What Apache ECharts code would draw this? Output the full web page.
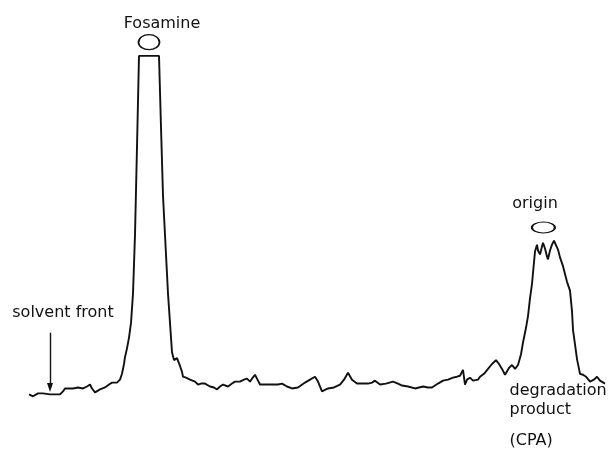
<!DOCTYPE html>
<html>
<head>
<meta charset="utf-8">
<script src="https://cdn.jsdelivr.net/npm/echarts@6/dist/echarts.min.js"></script>
<style>html,body{margin:0;padding:0;background:#fff}#c{width:608px;height:454px}</style>
</head>
<body>
<div id="c"></div>
<script>
// Migration distance (chart units) and detector response (chart units)
const distance = [0,1,2.25,3.5,5.25,6.75,7.75,8.5,9,10,11,12.25,13.5,14.5,15.25,15.75,16.5,17.75,19,20,20.75,22,22.75,23.25,23.75,24,24.5,25,25.5,26,26.5,27,27.5,32.5,33,33.5,34.25,34.75,35.25,35.75,36.25,36.5,37,37.25,37.75,38.25,38.5,39.25,40.25,41.5,42.25,43,44,45.25,46.25,47,47.75,48.5,49.75,50.75,51.5,52.75,53.75,54.5,55.25,55.75,56.5,57.25,57.75,59.25,60.75,62.25,63.25,64.5,65.75,67.25,69,70.25,71.5,72.25,73.25,74.75,76.25,77.75,78.75,79.75,80.75,82,83.25,84.75,85.75,86.5,87.75,89.25,91,92.25,93.25,94.75,96.5,98.5,99.75,100.75,102.25,103.5,104.75,106,107,107.75,108.25,108.5,109,109.5,110.25,111,111.5,112.25,112.75,113.75,114.75,115.75,116.75,117.5,118.25,119,120,120.75,121.5,122.25,123,123.5,124.25,124.75,125.25,125.75,126.25,126.5,127,127.25,127.75,128.25,128.5,129,129.5,129.75,130.25,130.75,131.25,131.75,132.25,132.75,133.5,134,134.5,135.25,135.75,136,136.5,137,137.5,137.75,138.5,139.25,140.25,141.25,142,142.75,143.25,144];
const response = [0.25,-0.25,0.5,0.5,0.25,0.25,0.25,1,1.75,1.75,1.75,2,1.75,2.25,2.75,1.75,0.75,1.5,2,2.75,3.25,3.25,4,5.5,8,9.75,12,14.75,18.5,26,41,63.5,86.75,86.75,68.5,51,36,26,18.5,11,9,8.5,9.5,9,7.5,6,4.75,4.5,4,3.5,2.75,3,3,2.25,2,1.5,2.25,2.75,2.25,3,3.5,3.5,4,4.25,3.5,4.25,5.25,3.75,2.75,2.75,2.75,2.75,3,2.25,1.75,2,3.25,4,4.75,3.5,1,1.75,2,2.75,4,5.75,4,3,3,3,3.25,3.75,2.75,3,3.5,3,2.5,2.25,1.75,2.25,2,2,3,3.75,4,4.5,4.75,5,5.5,6.5,2.75,4,4.5,3.75,3.5,4,4.75,5.5,6.75,8,9,8,6.75,5.25,7,7.75,6.75,7.75,10.5,13.5,17.25,20.25,24.75,28.5,34,36.75,38.5,37,36,38,39,37.5,35.5,34.75,37,38.5,39.5,39.75,37.25,35.25,33,31,29,26.75,21.5,16.75,13,9.25,6.75,5.5,5.25,4.75,3.5,4,4.75,3.75,3.5,3];

// Annotation texts and anchor positions [distance, response]
const labelTexts = ['Fosamine', 'origin', 'solvent front'];
const labelAnchors = [[33.25, 94.9], [126.5, 49], [8.5, 21.15]];
const productLines = ['degradation', 'product', '(CPA)'];
const productAnchors = [[120, 1.15], [120, -3.6], [120, -11.6]];
const spotCentres = [[30, 90.25], [128.6, 42.9]];
const spotSizes = [[21, 15], [23, 11]];
const arrowFrom = [5.25, 16];
const arrowTo = [5.25, 2];

const FONT = 'DejaVu Sans';
const ink = '#111';

const data = distance.map((d, i) => [d, response[i]]);

const markData = [];
labelTexts.forEach((t, i) => markData.push({
  coord: labelAnchors[i], symbol: 'circle', symbolSize: 1,
  itemStyle: {color: 'rgba(0,0,0,0)'},
  label: {show: true, position: 'inside', formatter: t, fontSize: 16, fontFamily: FONT, color: ink}
}));
productLines.forEach((t, i) => markData.push({
  coord: productAnchors[i], symbol: 'circle', symbolSize: 1,
  itemStyle: {color: 'rgba(0,0,0,0)'},
  label: {show: true, position: 'right', distance: 0, formatter: t, fontSize: 16, fontFamily: FONT, color: ink}
}));
spotCentres.forEach((c, i) => markData.push({
  coord: c, symbol: 'circle', symbolSize: spotSizes[i],
  itemStyle: {color: 'rgba(0,0,0,0)', borderColor: ink, borderWidth: 1.5},
  label: {show: false}
}));

const chart = echarts.init(document.getElementById('c'), null, {renderer: 'canvas'});
chart.setOption({
  animation: false,
  backgroundColor: '#fff',
  grid: {left: 29, right: 3, top: 4, bottom: -10},
  xAxis: {type: 'value', min: 0, max: 144, show: false},
  yAxis: {type: 'value', min: -15, max: 100, show: false},
  series: [{
    type: 'line',
    data: data,
    clip: false,
    showSymbol: false,
    symbol: 'none',
    lineStyle: {color: ink, width: 1.9},
    silent: true,
    markPoint: {silent: true, data: markData},
    markLine: {
      silent: true,
      symbol: ['none', 'triangle'],
      symbolSize: [6, 9],
      lineStyle: {color: ink, width: 1.4, type: 'solid'},
      label: {show: false},
      data: [[{coord: arrowFrom}, {coord: arrowTo}]]
    }
  }]
});
</script>
</body>
</html>
